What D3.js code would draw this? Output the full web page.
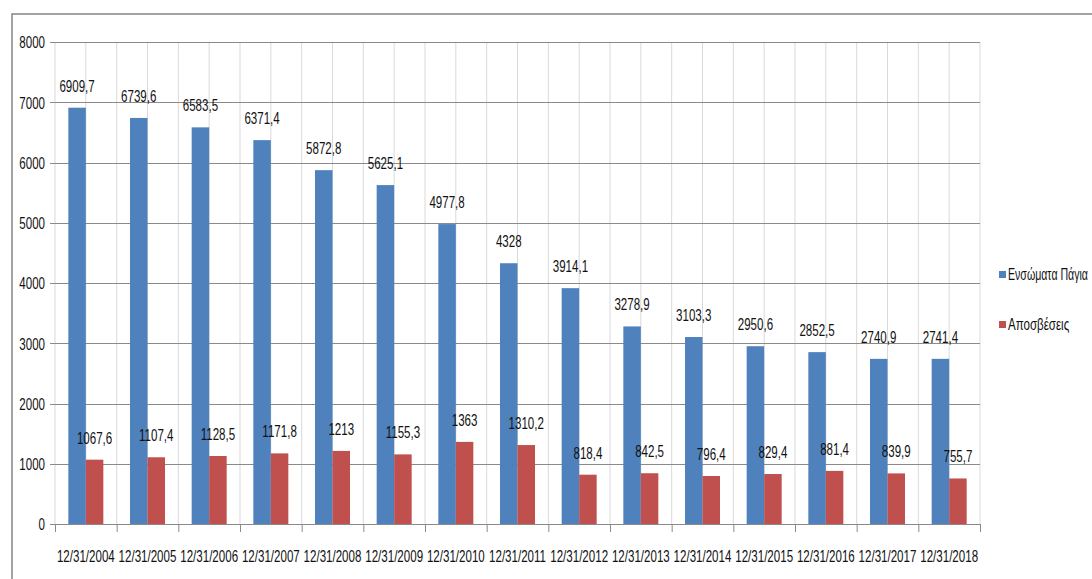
<!DOCTYPE html>
<html>
<head>
<meta charset="utf-8">
<script src="https://cdn.jsdelivr.net/npm/d3@7"></script>
<style>
  html, body { margin: 0; padding: 0; background: #fff; }
  svg { display: block; }
  text { font-family: "Liberation Sans", Arial, sans-serif; fill: #111; }
</style>
</head>
<body>
<svg id="chart" width="1092" height="579"></svg>
<script>
const categories = ["12/31/2004","12/31/2005","12/31/2006","12/31/2007","12/31/2008","12/31/2009","12/31/2010","12/31/2011","12/31/2012","12/31/2013","12/31/2014","12/31/2015","12/31/2016","12/31/2017","12/31/2018"];
const seriesNames = ["Ενσώματα Πάγια", "Αποσβέσεις"];
const fixedAssets = [6909.7, 6739.6, 6583.5, 6371.4, 5872.8, 5625.1, 4977.8, 4328, 3914.1, 3278.9, 3103.3, 2950.6, 2852.5, 2740.9, 2741.4];
const depreciation = [1067.6, 1107.4, 1128.5, 1171.8, 1213, 1155.3, 1363, 1310.2, 818.4, 842.5, 796.4, 829.4, 881.4, 839.9, 755.7];
const yTicks = [0, 1000, 2000, 3000, 4000, 5000, 6000, 7000, 8000];
const colors = ["#4F81BD", "#C0504D"];

const SX = 0.68;       // horizontal text compression
const FS = 17;         // font size
const fmt = v => String(v).replace(".", ",");

const svg = d3.select("#chart");
const pLeft = 55, pRight = 980, pTop = 42, pBottom = 524;

// frame
svg.append("rect").attr("x", 12).attr("y", 14).attr("width", 1200).attr("height", 700)
  .attr("fill", "none").attr("stroke", "#8c8c8c").attr("stroke-width", 1.6);

const x0 = d3.scaleBand().domain(categories).range([pLeft, pRight]).paddingInner(0).paddingOuter(0);
const bw = x0.bandwidth();
const x1 = d3.scaleBand().domain(seriesNames).range([0, bw]).paddingInner(0).paddingOuter(0.762);
const y = d3.scaleLinear().domain([0, 8000]).range([pBottom, pTop]);

// vertical gridlines (major + minor)
const vLines = [];
categories.forEach(c => { vLines.push(x0(c)); vLines.push(x0(c) + bw / 2); });
vLines.push(pRight);
svg.append("g").selectAll("line").data(vLines).join("line")
  .attr("x1", d => d).attr("x2", d => d).attr("y1", pTop).attr("y2", pBottom)
  .attr("stroke", "#d9d9d9").attr("stroke-width", 1);

// horizontal gridlines
svg.append("g").selectAll("line").data(yTicks).join("line")
  .attr("x1", pLeft - 5).attr("x2", pRight)
  .attr("y1", d => Math.round(y(d)) + 0.5).attr("y2", d => Math.round(y(d)) + 0.5)
  .attr("stroke", "#8a8a8a").attr("stroke-width", 1);

// x-axis boundary ticks
const bounds = categories.map(c => x0(c)).concat([pRight]);
svg.append("g").selectAll("line").data(bounds).join("line")
  .attr("x1", d => d + 0.5).attr("x2", d => d + 0.5).attr("y1", pBottom).attr("y2", pBottom + 8)
  .attr("stroke", "#8a8a8a").attr("stroke-width", 1);

// y axis labels
const yAxis = d3.axisLeft(y).tickValues(yTicks).tickSize(0).tickFormat(d => String(d));
const yg = svg.append("g").attr("transform", `translate(${pLeft},0)`).call(yAxis);
yg.select(".domain").remove();
yg.selectAll("text")
  .attr("x", -10 / SX).attr("dy", "0.35em")
  .attr("transform", `scale(${SX},1)`)
  .style("font-size", FS + "px").style("font-family", "Liberation Sans, Arial, sans-serif")
  .attr("fill", "#111");

// x axis labels
const xAxis = d3.axisBottom(x0).tickSize(0);
const xg = svg.append("g").attr("transform", `translate(0,${pBottom})`).call(xAxis);
xg.select(".domain").remove();
xg.selectAll("text")
  .attr("y", 0).attr("dy", 0)
  .attr("transform", `translate(0,38) scale(${SX},1)`)
  .style("font-size", FS + "px").style("font-family", "Liberation Sans, Arial, sans-serif")
  .attr("fill", "#111");

// bars
const data = categories.map((c, i) => ({ c, vals: [fixedAssets[i], depreciation[i]] }));
const groups = svg.append("g").selectAll("g").data(data).join("g")
  .attr("transform", d => `translate(${x0(d.c)},0)`);
groups.selectAll("rect").data(d => d.vals.map((v, j) => ({ v, s: seriesNames[j], j }))).join("rect")
  .attr("x", d => x1(d.s)).attr("width", x1.bandwidth())
  .attr("y", d => y(d.v)).attr("height", d => y(0) - y(d.v))
  .attr("fill", d => colors[d.j]);

// value labels
groups.selectAll("text.val").data(d => d.vals.map((v, j) => ({ v, s: seriesNames[j], j }))).join("text")
  .attr("class", "val")
  .attr("text-anchor", "middle")
  .attr("transform", d => `translate(${x1(d.s) + x1.bandwidth() / 2},${y(d.v) - 16}) scale(${SX},1)`)
  .style("font-size", FS + "px")
  .text(d => fmt(d.v));

// legend
const lg = svg.append("g").selectAll("g").data(seriesNames).join("g")
  .attr("transform", (d, i) => `translate(999,${271 + i * 50})`);
lg.append("rect").attr("width", 7).attr("height", 7).attr("fill", (d, i) => colors[i]);
lg.append("text")
  .style("font-size", FS + "px")
  .text(d => d)
  .each(function () {
    const w = this.getComputedTextLength();
    const s = Math.min(SX, 80 / w);
    d3.select(this).attr("transform", `translate(9,9) scale(${s},1)`);
  });
</script>
</body>
</html>
